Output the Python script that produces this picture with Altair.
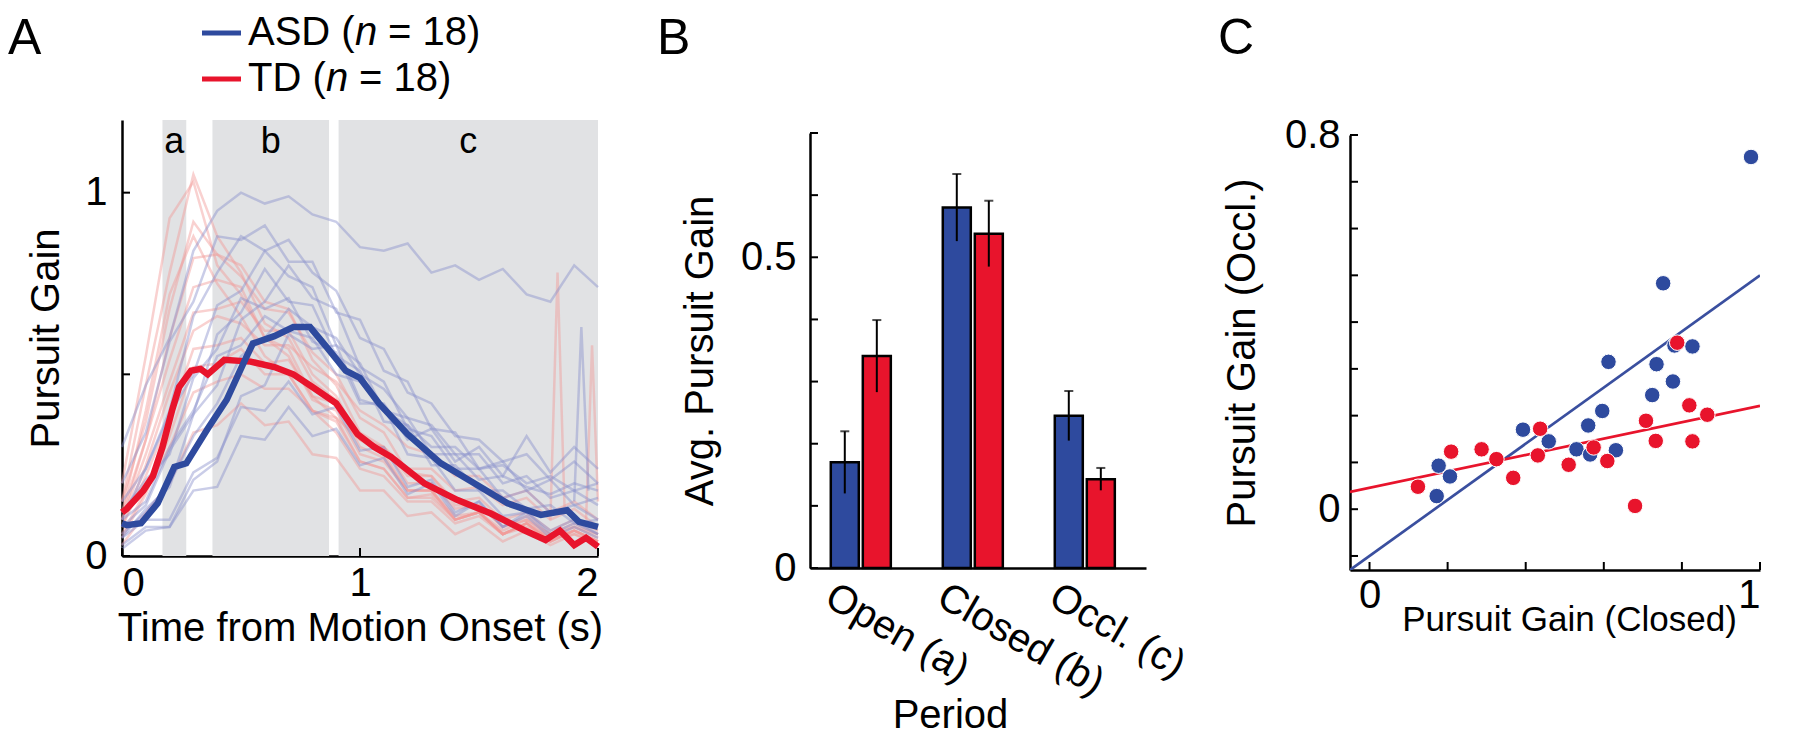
import altair as alt
import pandas as pd

FONT = "Liberation Sans"
BLUE = "#2e4a9e"
RED = "#e8142c"
BLUE_FAINT = "#8a90cc"
RED_FAINT = "#f29a96"
SHADE = "#e1e2e4"

# ---------------- Panel A data ----------------
period_labels = ["a", "b", "c"]
period_start = [0.17, 0.38, 0.91]
period_end = [0.27, 0.87, 2.0]

asd_mean_t = [0.0, 0.02, 0.08, 0.15, 0.22, 0.27, 0.36, 0.44, 0.51, 0.55, 0.64, 0.72, 0.79,
              0.86, 0.94, 1.0, 1.08, 1.2, 1.34, 1.48, 1.62, 1.76, 1.87, 1.92, 2.0]
asd_mean_g = [0.09, 0.085, 0.09, 0.145, 0.245, 0.255, 0.35, 0.43, 0.53, 0.585, 0.605, 0.63, 0.63,
              0.575, 0.51, 0.49, 0.42, 0.335, 0.255, 0.20, 0.145, 0.113, 0.126, 0.094, 0.08]

td_mean_t = [0.0, 0.02, 0.09, 0.13, 0.17, 0.21, 0.24, 0.29, 0.33, 0.36, 0.43, 0.54, 0.64, 0.72,
             0.8, 0.9, 0.99, 1.06, 1.13, 1.27, 1.41, 1.55, 1.69, 1.78, 1.84, 1.9, 1.95, 2.0]
td_mean_g = [0.12, 0.13, 0.18, 0.22, 0.30, 0.40, 0.465, 0.51, 0.515, 0.50, 0.54, 0.535, 0.52, 0.50,
             0.465, 0.42, 0.335, 0.30, 0.273, 0.20, 0.154, 0.117, 0.071, 0.044, 0.07, 0.03, 0.05, 0.026]

trace_t = [0.0, 0.1, 0.2, 0.3, 0.4, 0.5, 0.6, 0.7, 0.8, 0.9, 1.0,
           1.1, 1.2, 1.3, 1.4, 1.5, 1.6, 1.7, 1.8, 1.9, 2.0]

asd_traces = [
    [0.30, 0.47, 0.60, 0.84, 0.95, 1.00, 0.97, 0.99, 0.94, 0.92, 0.85, 0.84, 0.86, 0.78, 0.80, 0.76, 0.79, 0.72, 0.70, 0.80, 0.74],
    [0.10, 0.24, 0.40, 0.66, 0.78, 0.88, 0.84, 0.87, 0.78, 0.73, 0.60, 0.57, 0.45, 0.42, 0.33, 0.32, 0.26, 0.28, 0.21, 0.26, 0.20],
    [0.15, 0.24, 0.39, 0.50, 0.69, 0.73, 0.84, 0.77, 0.74, 0.58, 0.53, 0.40, 0.38, 0.28, 0.28, 0.21, 0.22, 0.19, 0.17, 0.20, 0.18],
    [0.05, 0.13, 0.19, 0.39, 0.47, 0.65, 0.70, 0.80, 0.71, 0.68, 0.52, 0.48, 0.35, 0.33, 0.24, 0.24, 0.16, 0.18, 0.12, 0.14, 0.10],
    [0.08, 0.14, 0.29, 0.39, 0.61, 0.67, 0.79, 0.70, 0.69, 0.55, 0.51, 0.37, 0.36, 0.25, 0.25, 0.18, 0.18, 0.13, 0.14, 0.09, 0.10],
    [0.02, 0.07, 0.08, 0.21, 0.26, 0.44, 0.47, 0.61, 0.57, 0.58, 0.43, 0.41, 0.28, 0.27, 0.18, 0.18, 0.11, 0.12, 0.07, 0.10, 0.06],
    [0.05, 0.10, 0.10, 0.23, 0.27, 0.41, 0.40, 0.48, 0.39, 0.41, 0.29, 0.30, 0.19, 0.21, 0.12, 0.15, 0.08, 0.11, 0.05, 0.08, 0.05],
    [0.12, 0.21, 0.28, 0.49, 0.57, 0.71, 0.68, 0.71, 0.59, 0.56, 0.42, 0.42, 0.32, 0.35, 0.26, 0.30, 0.22, 0.33, 0.23, 0.30, 0.24],
    [0.03, 0.08, 0.08, 0.18, 0.19, 0.33, 0.32, 0.41, 0.33, 0.35, 0.25, 0.27, 0.17, 0.20, 0.11, 0.15, 0.08, 0.12, 0.06, 0.09, 0.06],
    [0.20, 0.34, 0.59, 0.70, 0.88, 0.87, 0.91, 0.81, 0.81, 0.67, 0.65, 0.51, 0.48, 0.35, 0.34, 0.24, 0.26, 0.18, 0.21, 0.14, 0.16],
    [0.10, 0.15, 0.30, 0.40, 0.55, 0.58, 0.66, 0.62, 0.60, 0.50, 0.48, 0.40, 0.36, 0.30, 0.30, 0.24, 0.25, 0.20, 0.22, 0.18, 0.20],
    [0.06, 0.12, 0.20, 0.33, 0.42, 0.55, 0.60, 0.68, 0.63, 0.60, 0.50, 0.46, 0.38, 0.36, 0.28, 0.28, 0.20, 0.22, 0.16, 0.18, 0.14],
]
td_traces = [
    [0.20, 0.55, 0.93, 1.03, 0.80, 0.72, 0.60, 0.57, 0.44, 0.38, 0.26, 0.24, 0.16, 0.16, 0.10, 0.12, 0.06, 0.09, 0.05, 0.06, 0.04],
    [0.15, 0.47, 0.78, 1.05, 0.88, 0.78, 0.64, 0.60, 0.48, 0.43, 0.30, 0.27, 0.18, 0.18, 0.10, 0.12, 0.07, 0.10, 0.06, 0.08, 0.05],
    [0.10, 0.32, 0.60, 0.82, 0.83, 0.80, 0.70, 0.68, 0.54, 0.47, 0.34, 0.30, 0.20, 0.20, 0.13, 0.14, 0.08, 0.10, 0.05, 0.08, 0.06],
    [0.10, 0.28, 0.48, 0.67, 0.68, 0.70, 0.62, 0.62, 0.50, 0.44, 0.32, 0.28, 0.18, 0.18, 0.11, 0.12, 0.06, 0.09, 0.04, 0.07, 0.04],
    [0.12, 0.32, 0.54, 0.74, 0.76, 0.74, 0.60, 0.55, 0.43, 0.40, 0.28, 0.26, 0.18, 0.18, 0.10, 0.12, 0.06, 0.09, 0.04, 0.07, 0.04],
    [0.05, 0.17, 0.33, 0.52, 0.53, 0.57, 0.50, 0.50, 0.40, 0.37, 0.26, 0.24, 0.16, 0.17, 0.10, 0.12, 0.06, 0.09, 0.04, 0.07, 0.04],
    [0.08, 0.22, 0.38, 0.57, 0.58, 0.60, 0.53, 0.54, 0.44, 0.42, 0.32, 0.30, 0.22, 0.22, 0.15, 0.16, 0.10, 0.12, 0.07, 0.10, 0.07],
    [0.03, 0.12, 0.20, 0.34, 0.36, 0.42, 0.36, 0.37, 0.28, 0.27, 0.18, 0.18, 0.11, 0.12, 0.06, 0.09, 0.04, 0.07, 0.03, 0.06, 0.03],
    [0.15, 0.37, 0.68, 0.92, 0.83, 0.77, 0.68, 0.67, 0.56, 0.50, 0.38, 0.34, 0.23, 0.22, 0.14, 0.14, 0.08, 0.11, 0.06, 0.09, 0.06],
    [0.08, 0.25, 0.45, 0.62, 0.66, 0.64, 0.58, 0.58, 0.52, 0.48, 0.40, 0.36, 0.30, 0.28, 0.22, 0.22, 0.16, 0.18, 0.12, 0.15, 0.10],
    [0.06, 0.18, 0.30, 0.45, 0.48, 0.50, 0.46, 0.46, 0.40, 0.38, 0.32, 0.30, 0.24, 0.24, 0.18, 0.19, 0.14, 0.16, 0.10, 0.13, 0.08],
    [0.12, 0.40, 0.72, 0.88, 0.75, 0.66, 0.55, 0.50, 0.40, 0.34, 0.24, 0.22, 0.15, 0.15, 0.09, 0.11, 0.06, 0.08, 0.05, 0.07, 0.04],
]
# narrow late spikes visible in single traces
spike_group = ["TD", "ASD", "TD"]
spike_t = [[1.80, 1.83, 1.86], [1.90, 1.93, 1.96], [1.95, 1.975, 2.0]]
spike_g = [[0.10, 0.78, 0.12], [0.15, 0.63, 0.18], [0.10, 0.58, 0.15]]
a_xticks = [0, 1, 2]
a_yticks = [0, 0.5, 1]

# ---------------- Panel B data ----------------
period_names = ["Open (a)", "Closed (b)", "Occl. (c)"]
asd_bar = [0.170, 0.580, 0.245]
asd_err = [0.050, 0.054, 0.040]
td_bar = [0.341, 0.538, 0.143]
td_err = [0.058, 0.053, 0.018]
b_yticks = [0, 0.1, 0.2, 0.3, 0.4, 0.5, 0.6, 0.7]

# ---------------- Panel C data ----------------
asd_closed = [0.177, 0.172, 0.206, 0.393, 0.459, 0.530, 0.560, 0.565, 0.596, 0.612,
              0.631, 0.724, 0.735, 0.752, 0.777, 0.781, 0.827, 0.977]
asd_occl = [0.093, 0.028, 0.070, 0.170, 0.145, 0.128, 0.179, 0.117, 0.210, 0.315,
            0.126, 0.244, 0.310, 0.483, 0.273, 0.350, 0.348, 0.753]
td_closed = [0.124, 0.209, 0.287, 0.325, 0.368, 0.437, 0.431, 0.510, 0.574, 0.609,
             0.680, 0.708, 0.733, 0.788, 0.819, 0.827, 0.865]
td_occl = [0.048, 0.123, 0.128, 0.107, 0.067, 0.172, 0.115, 0.095, 0.132, 0.103,
           0.007, 0.189, 0.146, 0.356, 0.222, 0.145, 0.202]
fit_x = [-0.05, 1.0]
asd_fit_y = [-0.13, 0.500]
td_fit_y = [0.037, 0.221]
c_xticks = [0, 0.2, 0.4, 0.6, 0.8, 1.0]
c_yticks = [-0.1, 0, 0.1, 0.2, 0.3, 0.4, 0.5, 0.6, 0.7, 0.8]

# ---------------- layout constants ----------------
H = 450                      # common view height (all views share the same top)
WA, WB, WC = 476, 336, 410
A_TOP, A_BOT = 0, 436        # pixel range of each y scale inside its view
B_TOP, B_BOT = 13, 448
C_TOP, C_BOT = 15, 450
TICK = 8
TOP_EDGE = -112              # top of every panel's bounds, relative to the view
LETTER_Y = -106
ONE = alt.Data(values=[{}])


def txt(s, x, y, size=40, align="left", baseline="middle", style="normal"):
    return alt.Chart(ONE).mark_text(
        text=s, font=FONT, fontSize=size, align=align, baseline=baseline,
        fontStyle=style, color="black"
    ).encode(x=alt.value(x), y=alt.value(y))


def top_anchor():
    # invisible rule that fixes the top of the panel's bounds
    return alt.Chart(ONE).mark_rule(opacity=0, strokeWidth=1).encode(
        x=alt.value(0), x2=alt.value(1), y=alt.value(TOP_EDGE))


# ================= Panel A =================
xA = alt.Scale(domain=[0, 2], nice=False, zero=False)
yA = alt.Scale(domain=[0, 1.2], nice=False, range=[A_BOT, A_TOP])
axA_x = alt.Axis(values=a_xticks, format="~g", labelPadding=7, offset=-(H - A_BOT),
                 title="Time from Motion Onset (s)", titlePadding=5)
axA_y = alt.Axis(values=[0, 1], format="~g", labelPadding=15,
                 title="Pursuit Gain", titlePadding=18)

df_periods = pd.DataFrame({"label": period_labels, "start": period_start, "end": period_end})
rows_asd, rows_td = [], []
for i, vals in enumerate(asd_traces):
    for t, g in zip(trace_t, vals):
        rows_asd.append({"t": t, "g": g, "subj": f"asd{i}"})
for i, vals in enumerate(td_traces):
    for t, g in zip(trace_t, vals):
        rows_td.append({"t": t, "g": g, "subj": f"td{i}"})
for i, (grp, ts, gs) in enumerate(zip(spike_group, spike_t, spike_g)):
    for t, g in zip(ts, gs):
        (rows_td if grp == "TD" else rows_asd).append({"t": t, "g": g, "subj": f"spike{i}"})
df_asd_tr = pd.DataFrame(rows_asd)
df_td_tr = pd.DataFrame(rows_td)
df_asd_mean = pd.DataFrame({"t": asd_mean_t, "g": asd_mean_g})
df_td_mean = pd.DataFrame({"t": td_mean_t, "g": td_mean_g})

shade = alt.Chart(df_periods).mark_rect(color=SHADE).encode(
    x=alt.X("start:Q", scale=xA, axis=axA_x), x2="end:Q",
    y=alt.value(A_TOP), y2=alt.value(A_BOT))
shade_lbl = alt.Chart(df_periods).transform_calculate(
    mid="(datum.start + datum.end) / 2"
).mark_text(font=FONT, fontSize=36, baseline="middle", color="black").encode(
    x=alt.X("mid:Q", scale=xA, axis=axA_x), y=alt.value(A_TOP + 22), text="label:N")

faint_td = alt.Chart(df_td_tr).mark_line(color=RED_FAINT, strokeWidth=2.5, opacity=0.45).encode(
    x=alt.X("t:Q", scale=xA, axis=axA_x), y=alt.Y("g:Q", scale=yA, axis=axA_y), detail="subj:N")
faint_asd = alt.Chart(df_asd_tr).mark_line(color=BLUE_FAINT, strokeWidth=2.5, opacity=0.45).encode(
    x=alt.X("t:Q", scale=xA, axis=axA_x), y=alt.Y("g:Q", scale=yA, axis=axA_y), detail="subj:N")

mean_td = alt.Chart(df_td_mean).mark_line(color=RED, strokeWidth=6.5).encode(
    x=alt.X("t:Q", scale=xA, axis=axA_x), y=alt.Y("g:Q", scale=yA, axis=axA_y))
mean_asd = alt.Chart(df_asd_mean).mark_line(color=BLUE, strokeWidth=6.5).encode(
    x=alt.X("t:Q", scale=xA, axis=axA_x), y=alt.Y("g:Q", scale=yA, axis=axA_y))

a_yt = alt.Chart(pd.DataFrame({"v": a_yticks})).mark_rule(color="black", strokeWidth=2).encode(
    y=alt.Y("v:Q", scale=yA, axis=axA_y), x=alt.value(0), x2=alt.value(TICK))
a_xt = alt.Chart(pd.DataFrame({"v": a_xticks})).mark_rule(color="black", strokeWidth=2).encode(
    x=alt.X("v:Q", scale=xA, axis=axA_x), y=alt.value(A_BOT), y2=alt.value(A_BOT - TICK))

leg_y1, leg_y2 = -87, -41
legend = [
    alt.Chart(ONE).mark_rule(color=BLUE, strokeWidth=5).encode(
        x=alt.value(80), x2=alt.value(119), y=alt.value(leg_y1)),
    txt("ASD (", 126, leg_y1), txt("n", 233, leg_y1, style="italic"), txt("= 18)", 266, leg_y1),
    alt.Chart(ONE).mark_rule(color=RED, strokeWidth=5).encode(
        x=alt.value(80), x2=alt.value(119), y=alt.value(leg_y2)),
    txt("TD (", 126, leg_y2), txt("n", 204, leg_y2, style="italic"), txt("= 18)", 237, leg_y2),
]

panelA = alt.layer(
    shade, shade_lbl, faint_td, faint_asd, mean_td, mean_asd, a_yt, a_xt,
    *legend, txt("A", -114, LETTER_Y, size=50, baseline="top"), top_anchor()
).properties(width=WA, height=H)

# ================= Panel B =================
rows_b = []
for p, v, e in zip(period_names, asd_bar, asd_err):
    rows_b.append({"period": p, "group": "ASD", "value": v, "lo": v - e, "hi": v + e})
for p, v, e in zip(period_names, td_bar, td_err):
    rows_b.append({"period": p, "group": "TD", "value": v, "lo": v - e, "hi": v + e})
df_b = pd.DataFrame(rows_b)

yB = alt.Scale(domain=[0, 0.7], nice=False, range=[B_BOT, B_TOP])
xB = alt.Scale(paddingInner=0.464, paddingOuter=0.232, align=0.4)
xoB = alt.Scale(paddingInner=0.125, paddingOuter=0)
axB_x = alt.Axis(labelAngle=30, labelAlign="left", labelBaseline="top", labelLimit=400,
                 labelPadding=8, labelOffset=-22, offset=-(H - B_BOT),
                 title="Period", titlePadding=-7, titleX=140)
axB_y = alt.Axis(values=[0, 0.5], format="~g", labelPadding=14,
                 title="Avg. Pursuit Gain", titlePadding=20)

bars = alt.Chart(df_b).mark_bar(stroke="black", strokeWidth=2.5).encode(
    x=alt.X("period:N", sort=period_names, scale=xB, axis=axB_x),
    xOffset=alt.XOffset("group:N", sort=["ASD", "TD"], scale=xoB),
    y=alt.Y("value:Q", scale=yB, axis=axB_y),
    color=alt.Color("group:N", scale=alt.Scale(domain=["ASD", "TD"], range=[BLUE, RED]), legend=None))
err = alt.Chart(df_b).mark_rule(color="black", strokeWidth=2).encode(
    x=alt.X("period:N", sort=period_names, scale=xB, axis=axB_x),
    xOffset=alt.XOffset("group:N", sort=["ASD", "TD"], scale=xoB),
    y=alt.Y("lo:Q", scale=yB, axis=axB_y), y2="hi:Q")
cap = alt.Chart(df_b).mark_tick(color="black", thickness=2, size=9).encode(
    x=alt.X("period:N", sort=period_names, scale=xB, axis=axB_x),
    xOffset=alt.XOffset("group:N", sort=["ASD", "TD"], scale=xoB),
    y=alt.Y("hi:Q", scale=yB, axis=axB_y))
b_yt = alt.Chart(pd.DataFrame({"v": b_yticks})).mark_rule(color="black", strokeWidth=2).encode(
    y=alt.Y("v:Q", scale=yB, axis=axB_y), x=alt.value(0), x2=alt.value(TICK))

panelB = alt.layer(
    bars, err, cap, b_yt, txt("B", -153, LETTER_Y, size=50, baseline="top"), top_anchor()
).properties(width=WB, height=H)

# ================= Panel C =================
xC = alt.Scale(domain=[-0.05, 1.0], nice=False, zero=False)
yC = alt.Scale(domain=[-0.13, 0.8], nice=False, zero=False, range=[C_BOT, C_TOP])
axC_x = alt.Axis(values=[0, 1], format="~g", labelPadding=5,
                 title="Pursuit Gain (Closed)", titlePadding=-13, titleFontSize=35, titleX=219)
axC_y = alt.Axis(values=[0, 0.8], format="~g", labelPadding=10,
                 title="Pursuit Gain (Occl.)", titlePadding=22)
df_asd_pts = pd.DataFrame({"closed": asd_closed, "occl": asd_occl})
df_td_pts = pd.DataFrame({"closed": td_closed, "occl": td_occl})
df_asd_fit = pd.DataFrame({"closed": fit_x, "occl": asd_fit_y})
df_td_fit = pd.DataFrame({"closed": fit_x, "occl": td_fit_y})

fit_asd = alt.Chart(df_asd_fit).mark_line(color="#3a4f9f", strokeWidth=2.7, clip=True).encode(
    x=alt.X("closed:Q", scale=xC, axis=axC_x), y=alt.Y("occl:Q", scale=yC, axis=axC_y))
fit_td = alt.Chart(df_td_fit).mark_line(color=RED, strokeWidth=2.7, clip=True).encode(
    x=alt.X("closed:Q", scale=xC, axis=axC_x), y=alt.Y("occl:Q", scale=yC, axis=axC_y))
pts_asd = alt.Chart(df_asd_pts).mark_circle(color=BLUE, size=240, opacity=1, stroke="white",
                                            strokeWidth=1).encode(
    x=alt.X("closed:Q", scale=xC, axis=axC_x), y=alt.Y("occl:Q", scale=yC, axis=axC_y))
pts_td = alt.Chart(df_td_pts).mark_circle(color=RED, size=240, opacity=1, stroke="white",
                                          strokeWidth=1).encode(
    x=alt.X("closed:Q", scale=xC, axis=axC_x), y=alt.Y("occl:Q", scale=yC, axis=axC_y))
c_yt = alt.Chart(pd.DataFrame({"occl": c_yticks})).mark_rule(color="black", strokeWidth=2).encode(
    y=alt.Y("occl:Q", scale=yC, axis=axC_y), x=alt.value(0), x2=alt.value(TICK))
c_xt = alt.Chart(pd.DataFrame({"closed": c_xticks})).mark_rule(color="black", strokeWidth=2).encode(
    x=alt.X("closed:Q", scale=xC, axis=axC_x), y=alt.value(C_BOT), y2=alt.value(C_BOT - TICK))

panelC = alt.layer(
    fit_asd, fit_td, pts_asd, pts_td, c_yt, c_xt,
    txt("C", -132, LETTER_Y, size=50, baseline="top"), top_anchor()
).properties(width=WC, height=H)

chart = alt.hconcat(
    panelA, alt.hconcat(panelB, panelC, spacing=26), spacing=46
).properties(padding=0, background="white").configure_view(stroke=None).configure_axis(
    domainColor="black", domainWidth=2.5, ticks=False, grid=False,
    labelFont=FONT, labelFontSize=40, labelColor="black",
    titleFont=FONT, titleFontSize=40, titleFontWeight="normal", titleColor="black")

chart.save("out.html", embed_options={"renderer": "svg", "actions": False})
